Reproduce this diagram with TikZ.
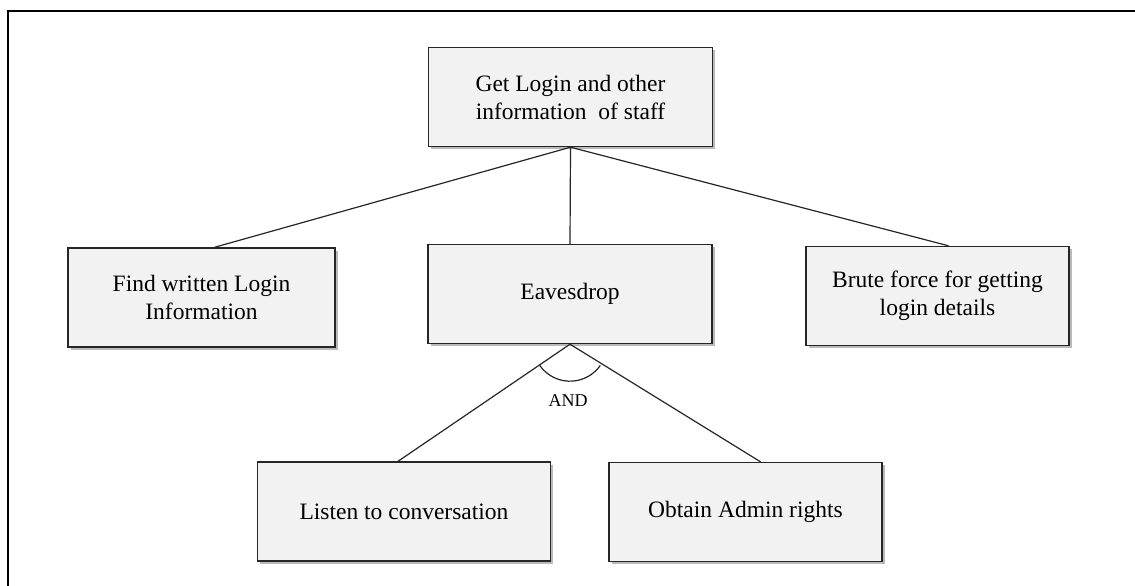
\documentclass[tikz,border=0pt]{standalone}
\usepackage{fontspec}
\setmainfont{Liberation Serif}
\usetikzlibrary{shadows}
\begin{document}
\begin{tikzpicture}[x=1pt,y=-1pt,
  boxnode/.style={draw=black!85,line width=1.4pt,fill=black!5,
    drop shadow={shadow xshift=2.5pt,shadow yshift=-2.5pt,fill=black!45,opacity=0.6},
    minimum height=99pt,align=center,font=\fontsize{23.5}{28}\selectfont,inner sep=0pt},
  conn/.style={line width=1.2pt,black!85}]
\useasboundingbox (0,0) rectangle (1135,586);
\fill[white] (0,0) rectangle (1135,586);
\draw[line width=2pt] (8,586) -- (8,11) -- (1135,11);
\node[boxnode,minimum width=284pt] (root) at (570.5,97) {Get Login and other\\information\ \ of staff};
\node[boxnode,minimum width=267pt] (find) at (201.5,297.5) {Find written Login\\Information};
\node[boxnode,minimum width=284pt] (eaves) at (570,294) {Eavesdrop};
\node[boxnode,minimum width=263pt] (brute) at (937.5,296) {Brute force for getting\\login details};
\node[boxnode,minimum width=293pt] (listen) at (404,511.5) {Listen to conversation};
\node[boxnode,minimum width=273pt] (admin) at (745.5,512) {Obtain Admin rights};
\coordinate (rb) at (root.south);
\draw[conn] (rb) -- ([xshift=13pt]find.north);
\draw[conn] (rb) -- (eaves.north);
\draw[conn] (rb) -- ([xshift=11pt]brute.north);
\coordinate (eb) at (eaves.south);
\draw[conn] (eb) -- ([xshift=-6pt]listen.north);
\draw[conn] (eb) -- ([xshift=15pt]admin.north);
\draw[conn] (eb) ++(145:37) arc[start angle=145,end angle=35,radius=37];
\node[font=\fontsize{18}{21}\selectfont] (andlbl) at (568,401) {AND};
\end{tikzpicture}
\end{document}
